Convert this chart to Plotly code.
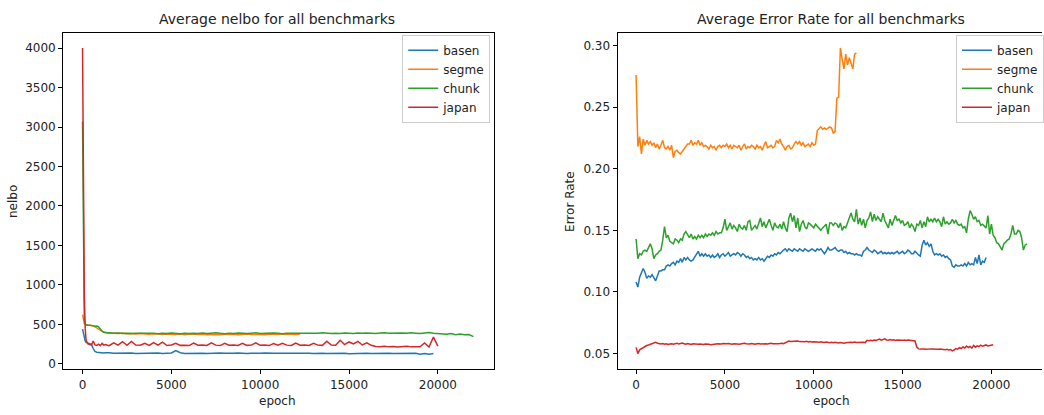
import plotly.graph_objects as go

# x grids: nelbo is logged densely at the start, error rate every 100 epochs
nelbo_epochs = [0, 50, 100, 150] + list(range(200, 1500, 100)) + list(range(1500, 22001, 250))
err_epochs = list(range(0, 22001, 100))

series_names = ["basen", "segme", "chunk", "japan"]
series_colors = ["#1f77b4", "#ff7f0e", "#2ca02c", "#d62728"]

# ---- average nelbo ----
nelbo_basen = [
    440, 375, 318, 290, 272, 262, 255, 248, 195, 158, 148, 144, 141, 143, 139, 142, 138,
    140, 136, 138, 133, 135, 137, 132, 134, 136, 131,
    134, 137, 133, 135, 138, 170, 142, 133, 135, 131,
    134, 136, 132, 135, 133, 137, 134, 131, 135, 138,
    134, 132, 136, 133, 135, 137, 132, 134, 136, 133,
    131, 135, 134, 137, 132, 135, 133, 136, 134, 131,
    133, 135, 132, 134, 130, 133, 135, 132, 134, 131,
    133, 130, 132, 134, 131, 133, 135, 130, 132, 134,
    122, 133, 124, 131,
]
nelbo_segme = [
    625, 560, 510, 500, 495, 490, 492, 488, 480, 470, 455, 445, 430, 410, 400, 398, 392,
    395, 390, 385, 392, 382, 386, 378, 384, 380, 376,
    382, 378, 374, 380, 376, 372, 378, 370, 375, 379,
    373, 377, 371, 376, 374, 368, 375, 372, 377, 370,
    374, 378, 372, 369, 375, 371, 376, 373, 370, 376,
    374, 378, 372, 380,
]
nelbo_chunk = [
    3070, 1400, 560, 505, 495, 490, 488, 492, 485, 478, 480, 470, 440, 415, 400, 395, 392,
    395, 388, 392, 386, 390, 384, 389, 392, 386, 390,
    387, 383, 389, 385, 391, 386, 382, 388, 384, 390,
    386, 392, 385, 389, 394, 387, 383, 390, 386, 392,
    388, 384, 390, 395, 386, 389, 385, 391, 387, 383,
    389, 392, 386, 390, 388, 385, 391, 387, 396, 388,
    384, 390, 386, 392, 388, 385, 391, 387, 393, 389,
    385, 391, 394, 387, 390, 386, 392, 388, 395, 390,
    386, 392, 397, 389, 385, 380, 376, 385, 371, 378,
    370, 373, 345,
]
nelbo_japan = [
    4000, 2100, 850, 450, 300, 255, 242, 238, 290, 240, 235, 250, 232, 260, 238, 245, 236,
    232, 268, 238, 281, 236, 284, 240, 236, 262, 234,
    270, 238, 275, 233, 240, 262, 235, 238, 232, 265,
    236, 240, 234, 268, 238, 232, 260, 236, 240, 234,
    262, 235, 238, 268, 236, 240, 232, 258, 236, 262,
    238, 233, 265, 236, 240, 234, 262, 238, 235, 288,
    240, 236, 300, 245, 278, 252, 285, 240, 268, 236,
    222, 218, 225, 216, 221, 214, 219, 223, 216, 221,
    218, 265, 214, 340, 225,
]

# ---- average error rate ----
err_basen = [
    0.108, 0.104, 0.112, 0.115, 0.119, 0.116, 0.111, 0.113, 0.112, 0.114,
    0.112, 0.109, 0.113, 0.117, 0.117, 0.118, 0.118, 0.121, 0.122, 0.121,
    0.123, 0.124, 0.122, 0.125, 0.124, 0.127, 0.124, 0.128, 0.126, 0.128,
    0.126, 0.125, 0.126, 0.128, 0.130, 0.133, 0.129, 0.131, 0.129, 0.131,
    0.129, 0.130, 0.128, 0.130, 0.128, 0.129, 0.131, 0.128, 0.130, 0.131,
    0.129, 0.131, 0.132, 0.129, 0.130, 0.131, 0.130, 0.132, 0.131, 0.129,
    0.131, 0.130, 0.128, 0.129, 0.127, 0.128, 0.126, 0.127, 0.126, 0.128,
    0.126, 0.127, 0.125, 0.127, 0.129, 0.128, 0.130, 0.129, 0.131, 0.130,
    0.132, 0.131, 0.133, 0.134, 0.135, 0.133, 0.135, 0.134, 0.133, 0.135,
    0.134, 0.133, 0.135, 0.134, 0.133, 0.135, 0.134, 0.133, 0.134, 0.135,
    0.134, 0.133, 0.135, 0.134, 0.135, 0.133, 0.131, 0.133, 0.136, 0.134,
    0.134, 0.135, 0.136, 0.134, 0.133, 0.134, 0.134, 0.132, 0.133, 0.131,
    0.132, 0.131, 0.131, 0.130, 0.131, 0.130, 0.130, 0.129, 0.133, 0.134,
    0.136, 0.134, 0.133, 0.132, 0.134, 0.133, 0.131, 0.132, 0.133, 0.131,
    0.132, 0.131, 0.132, 0.131, 0.132, 0.131, 0.132, 0.133, 0.131, 0.132,
    0.133, 0.131, 0.132, 0.134, 0.133, 0.131, 0.131, 0.133, 0.131, 0.130,
    0.129, 0.138, 0.142, 0.138, 0.140, 0.137, 0.139, 0.133, 0.130, 0.131,
    0.130, 0.131, 0.129, 0.130, 0.128, 0.129, 0.127, 0.126, 0.121, 0.120,
    0.122, 0.121, 0.121, 0.122, 0.121, 0.123, 0.121, 0.124, 0.122, 0.123,
    0.122, 0.128, 0.123, 0.130, 0.122, 0.125, 0.124, 0.128,
]
err_segme = [
    0.276, 0.218, 0.226, 0.212, 0.224, 0.219, 0.223, 0.220, 0.222, 0.219,
    0.221, 0.217, 0.220, 0.216, 0.219, 0.223, 0.217, 0.216, 0.218, 0.215,
    0.219, 0.209, 0.214, 0.215, 0.213, 0.212, 0.214, 0.216, 0.219, 0.220,
    0.220, 0.223, 0.219, 0.221, 0.220, 0.223, 0.219, 0.221, 0.218, 0.219,
    0.218, 0.216, 0.219, 0.217, 0.218, 0.215, 0.218, 0.219, 0.217, 0.219,
    0.218, 0.220, 0.217, 0.219, 0.216, 0.219, 0.218, 0.217, 0.219, 0.215,
    0.218, 0.220, 0.216, 0.218, 0.217, 0.219, 0.218, 0.216, 0.219, 0.217,
    0.218, 0.215, 0.219, 0.222, 0.217, 0.218, 0.219, 0.217, 0.218, 0.223,
    0.221, 0.224, 0.220, 0.218, 0.215, 0.218, 0.219, 0.216, 0.217, 0.220,
    0.222, 0.220, 0.222, 0.219, 0.221, 0.218, 0.219, 0.220, 0.218, 0.221,
    0.219, 0.220, 0.231, 0.233, 0.234, 0.232, 0.233, 0.232, 0.233, 0.234,
    0.233, 0.229, 0.230, 0.257, 0.258, 0.298, 0.289, 0.281, 0.293, 0.284,
    0.290, 0.286, 0.281, 0.293, 0.294,
]
err_chunk = [
    0.143, 0.127, 0.131, 0.130, 0.133, 0.134, 0.133, 0.136, 0.139, 0.135,
    0.127, 0.130, 0.131, 0.133, 0.134, 0.142, 0.153, 0.144, 0.146, 0.141,
    0.140, 0.139, 0.143, 0.142, 0.140, 0.143, 0.142, 0.147, 0.149, 0.146,
    0.144, 0.147, 0.143, 0.145, 0.143, 0.146, 0.144, 0.146, 0.144, 0.147,
    0.145, 0.147, 0.146, 0.148, 0.146, 0.149, 0.147, 0.148, 0.148, 0.152,
    0.159, 0.150, 0.153, 0.156, 0.151, 0.154, 0.152, 0.149, 0.155, 0.152,
    0.151, 0.154, 0.150, 0.157, 0.158, 0.150, 0.152, 0.154, 0.151, 0.156,
    0.160, 0.153, 0.157, 0.152, 0.156, 0.159, 0.154, 0.150, 0.156, 0.153,
    0.152, 0.155, 0.151, 0.157, 0.152, 0.149, 0.160, 0.164, 0.157, 0.162,
    0.152, 0.160, 0.149, 0.155, 0.158, 0.153, 0.151, 0.156, 0.155, 0.153,
    0.152, 0.155, 0.153, 0.152, 0.150, 0.152, 0.154, 0.155, 0.147, 0.156,
    0.156, 0.154, 0.156, 0.155, 0.152, 0.156, 0.150, 0.153, 0.152, 0.157,
    0.160, 0.164, 0.159, 0.157, 0.167, 0.155, 0.160, 0.154, 0.159, 0.152,
    0.158, 0.160, 0.165, 0.157, 0.163, 0.158, 0.161, 0.159, 0.157, 0.164,
    0.158, 0.155, 0.152, 0.159, 0.154, 0.158, 0.162, 0.158, 0.159, 0.156,
    0.158, 0.154, 0.155, 0.157, 0.152, 0.155, 0.153, 0.149, 0.155, 0.154,
    0.158, 0.152, 0.157, 0.153, 0.161, 0.157, 0.159, 0.157, 0.160, 0.157,
    0.159, 0.157, 0.153, 0.161, 0.155, 0.157, 0.155, 0.156, 0.159, 0.156,
    0.158, 0.155, 0.154, 0.155, 0.152, 0.153, 0.148, 0.159, 0.166, 0.163,
    0.159, 0.161, 0.157, 0.158, 0.154, 0.155, 0.153, 0.152, 0.162, 0.147,
    0.155, 0.146, 0.144, 0.140, 0.139, 0.137, 0.134, 0.139, 0.141, 0.142,
    0.143, 0.147, 0.154, 0.147, 0.147, 0.150, 0.149, 0.144, 0.134, 0.138,
    0.139,
]
err_japan = [
    0.0550, 0.0500, 0.0530, 0.0540, 0.0550, 0.0560, 0.0565, 0.0570, 0.0575, 0.0580,
    0.0585, 0.0592, 0.0584, 0.0580, 0.0578, 0.0582, 0.0576, 0.0579, 0.0574, 0.0577,
    0.0580, 0.0576, 0.0578, 0.0583, 0.0577, 0.0581, 0.0586, 0.0579, 0.0576, 0.0582,
    0.0578, 0.0574, 0.0579, 0.0577, 0.0581, 0.0576, 0.0578, 0.0575, 0.0573, 0.0577,
    0.0579, 0.0575, 0.0572, 0.0576, 0.0574, 0.0578, 0.0580, 0.0576, 0.0578, 0.0581,
    0.0577, 0.0579, 0.0582, 0.0578, 0.0576, 0.0579, 0.0581, 0.0577, 0.0575, 0.0578,
    0.0580, 0.0584, 0.0579, 0.0576, 0.0578, 0.0581, 0.0577, 0.0575, 0.0579, 0.0582,
    0.0578, 0.0580, 0.0583, 0.0579, 0.0577, 0.0581, 0.0584, 0.0580, 0.0578, 0.0582,
    0.0579, 0.0581, 0.0584, 0.0580, 0.0586, 0.0594, 0.0601, 0.0598, 0.0600, 0.0596,
    0.0599, 0.0602, 0.0597, 0.0595, 0.0598, 0.0596, 0.0599, 0.0594, 0.0597, 0.0593,
    0.0596, 0.0598, 0.0594, 0.0591, 0.0595, 0.0592, 0.0589, 0.0593, 0.0590, 0.0587,
    0.0591, 0.0588, 0.0592, 0.0589, 0.0586, 0.0590, 0.0587, 0.0584, 0.0588, 0.0591,
    0.0589, 0.0592, 0.0590, 0.0593, 0.0589, 0.0591, 0.0594, 0.0590, 0.0592, 0.0589,
    0.0607, 0.0605, 0.0608, 0.0604, 0.0609, 0.0606, 0.0611, 0.0617, 0.0608, 0.0612,
    0.0619, 0.0610, 0.0608, 0.0613, 0.0609, 0.0612, 0.0607, 0.0610, 0.0608, 0.0611,
    0.0607, 0.0609, 0.0606, 0.0610, 0.0608, 0.0604, 0.0606, 0.0602, 0.0553, 0.0538,
    0.0536, 0.0539, 0.0537, 0.0535, 0.0538, 0.0536, 0.0537, 0.0535, 0.0538, 0.0536,
    0.0534, 0.0536, 0.0533, 0.0535, 0.0531, 0.0534, 0.0530, 0.0533, 0.0522, 0.0529,
    0.0540, 0.0536, 0.0548, 0.0541, 0.0553, 0.0545, 0.0561, 0.0549, 0.0557, 0.0544,
    0.0566, 0.0552, 0.0563, 0.0556, 0.0568, 0.0559, 0.0564, 0.0570, 0.0562, 0.0566,
    0.0568, 0.0572,
]

nelbo_ticks = [0, 500, 1000, 1500, 2000, 2500, 3000, 3500, 4000]
err_ticks = [0.05, 0.10, 0.15, 0.20, 0.25, 0.30]
epoch_ticks = [0, 5000, 10000, 15000, 20000]
epoch_labels = ["0", "5000", "10000", "15000", "20000"]

FONT = "DejaVu Sans"
W, H = 1044, 415

fig = go.Figure()

for name, color, vals in zip(series_names, series_colors,
                             [nelbo_basen, nelbo_segme, nelbo_chunk, nelbo_japan]):
    fig.add_trace(go.Scatter(
        x=nelbo_epochs[:len(vals)], y=vals, mode="lines", name=name,
        line=dict(color=color, width=1.5), xaxis="x", yaxis="y", legend="legend",
    ))

for name, color, vals in zip(series_names, series_colors,
                             [err_basen, err_segme, err_chunk, err_japan]):
    fig.add_trace(go.Scatter(
        x=err_epochs[:len(vals)], y=vals, mode="lines", name=name,
        line=dict(color=color, width=1.5), xaxis="x2", yaxis="y2", legend="legend2",
    ))

axis_common = dict(
    showgrid=False, zeroline=False, showline=True, linecolor="black", linewidth=1,
    ticks="outside", ticklen=4, tickwidth=1, tickcolor="black",
    tickfont=dict(family=FONT, size=12, color="#222"),
)

y_dom = [1 - 371 / H, 1 - 33.3 / H]

legend_style = dict(
    xanchor="left", yanchor="top", y=1 - 35 / H,
    bgcolor="rgba(255,255,255,0.8)", bordercolor="#cccccc", borderwidth=1,
    font=dict(family=FONT, size=12, color="#222"),
)

fig.update_layout(
    width=W, height=H, autosize=False,
    margin=dict(l=0, r=0, t=0, b=0),
    paper_bgcolor="white", plot_bgcolor="white",
    font=dict(family=FONT, size=12, color="#222"),
    xaxis=dict(axis_common, domain=[63.3 / W, 495 / W], range=[-1090, 23163],
               tickvals=epoch_ticks, ticktext=epoch_labels, mirror=True, anchor="y"),
    yaxis=dict(axis_common, domain=y_dom, range=[-67, 4189],
               tickvals=nelbo_ticks, mirror=True, anchor="x"),
    xaxis2=dict(axis_common, domain=[618.7 / W, 1.0], range=[-1045, 22848],
                tickvals=epoch_ticks, ticktext=epoch_labels, mirror=True, anchor="y2"),
    yaxis2=dict(axis_common, domain=y_dom, range=[0.0373, 0.3100],
                tickvals=err_ticks, tickformat=".2f", mirror=False, anchor="x2"),
    legend=dict(legend_style, x=403 / W),
    legend2=dict(legend_style, x=958 / W),
    showlegend=True,
)

text_font = dict(family=FONT, size=12, color="#222")
title_font = dict(family=FONT, size=14, color="#222")
annotations = [
    dict(text="Average nelbo for all benchmarks", x=278 / W, y=1 - 19 / H, font=title_font),
    dict(text="Average Error Rate for all benchmarks", x=833 / W, y=1 - 19 / H, font=title_font),
    dict(text="epoch", x=278 / W, y=1 - 403 / H, font=text_font),
    dict(text="epoch", x=833 / W, y=1 - 403 / H, font=text_font),
    dict(text="nelbo", x=13 / W, y=1 - 202 / H, textangle=-90, font=text_font),
    dict(text="Error Rate", x=571 / W, y=1 - 202 / H, textangle=-90, font=text_font),
]
for a in annotations:
    fig.add_annotation(xref="paper", yref="paper", xanchor="center", yanchor="middle",
                       showarrow=False, **a)

fig.write_html("out.html")
